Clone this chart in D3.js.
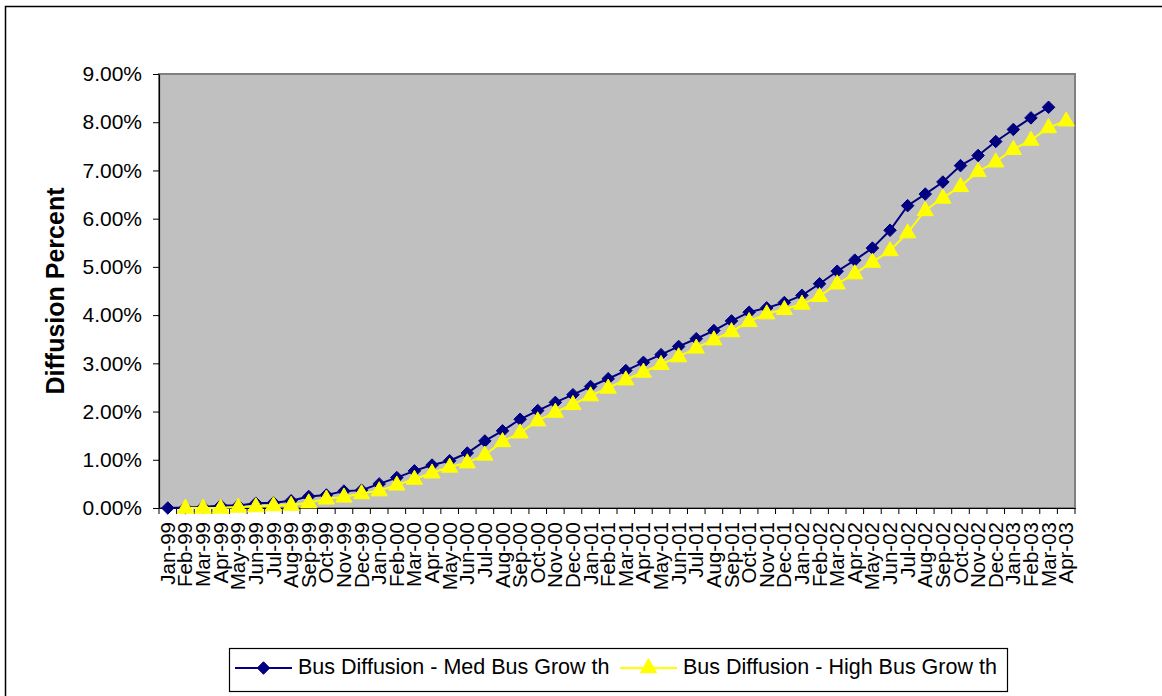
<!DOCTYPE html>
<html>
<head>
<meta charset="utf-8">
<script src="https://cdn.jsdelivr.net/npm/d3@7"></script>
<style>
  html, body { margin: 0; padding: 0; background: #fff; }
  svg { display: block; font-family: "Liberation Sans", Arial, Helvetica, sans-serif; }
</style>
</head>
<body>
<svg id="chart" width="1162" height="696"></svg>
<script>
const categories = ["Jan-99","Feb-99","Mar-99","Apr-99","May-99","Jun-99","Jul-99","Aug-99","Sep-99","Oct-99","Nov-99","Dec-99",
  "Jan-00","Feb-00","Mar-00","Apr-00","May-00","Jun-00","Jul-00","Aug-00","Sep-00","Oct-00","Nov-00","Dec-00",
  "Jan-01","Feb-01","Mar-01","Apr-01","May-01","Jun-01","Jul-01","Aug-01","Sep-01","Oct-01","Nov-01","Dec-01",
  "Jan-02","Feb-02","Mar-02","Apr-02","May-02","Jun-02","Jul-02","Aug-02","Sep-02","Oct-02","Nov-02","Dec-02",
  "Jan-03","Feb-03","Mar-03","Apr-03"];

// percent values
const medGrowth = [0.00,0.01,0.02,0.05,0.05,0.10,0.11,0.15,0.24,0.27,0.35,0.37,
  0.50,0.63,0.77,0.89,0.98,1.14,1.39,1.60,1.84,2.02,2.19,2.35,
  2.52,2.68,2.85,3.02,3.18,3.35,3.51,3.68,3.88,4.06,4.15,4.26,
  4.41,4.65,4.91,5.14,5.39,5.76,6.27,6.51,6.76,7.10,7.31,7.60,
  7.85,8.09,8.31,null];

const highGrowth = [null,0.00,0.00,0.00,0.02,0.03,0.05,0.06,0.11,0.19,0.23,0.30,
  0.36,0.48,0.60,0.73,0.85,0.94,1.10,1.38,1.56,1.81,1.99,2.15,
  2.33,2.49,2.66,2.82,2.98,3.14,3.32,3.49,3.66,3.87,4.03,4.12,
  4.23,4.39,4.65,4.86,5.10,5.34,5.71,6.17,6.43,6.67,6.98,7.18,
  7.44,7.63,7.89,8.03];

const yTicks = [0,1,2,3,4,5,6,7,8,9];
const seriesNames = ["Bus Diffusion - Med Bus Grow th", "Bus Diffusion - High Bus Grow th"];
const yTitle = "Diffusion Percent";

const svg = d3.select("#chart");
const font = "'Liberation Sans', Arial, Helvetica, sans-serif";

// outer chart frame
svg.append("rect").attr("x", 5.5).attr("y", 6.5).attr("width", 1170).attr("height", 700)
  .attr("fill", "#fff").attr("stroke", "#000").attr("stroke-width", 1.5);

const plot = {left: 159, right: 1075, top: 74, bottom: 508};

const x = d3.scaleBand().domain(categories).range([plot.left, plot.right]).padding(0);
const y = d3.scaleLinear().domain([0, 9]).range([plot.bottom, plot.top]);

// plot area
svg.append("rect").attr("x", plot.left).attr("y", plot.top)
  .attr("width", plot.right - plot.left).attr("height", plot.bottom - plot.top)
  .attr("fill", "#C0C0C0").attr("stroke", "#808080").attr("stroke-width", 2);

// y axis
const yAxis = svg.append("g").attr("transform", `translate(${plot.left},0)`)
  .call(d3.axisLeft(y).tickValues(yTicks).tickFormat(d => d.toFixed(2) + "%").tickSize(6).tickPadding(11).tickSizeOuter(0));
yAxis.select(".domain").attr("stroke", "#000").attr("stroke-width", 1.2);
yAxis.selectAll(".tick line").attr("stroke", "#000");
yAxis.selectAll("text").attr("font-size", 21).attr("font-family", font).attr("fill", "#000");

// x axis labels
const xAxis = svg.append("g").attr("transform", `translate(0,${plot.bottom})`)
  .call(d3.axisBottom(x).tickSize(0).tickSizeOuter(0));
xAxis.select(".domain").attr("stroke", "#000").attr("stroke-width", 1.2);
xAxis.selectAll("text")
  .attr("font-size", 20.5).attr("font-family", font).attr("fill", "#000")
  .attr("transform", "rotate(-90)")
  .attr("text-anchor", "end")
  .attr("x", -14).attr("y", 7).attr("dy", 0);

// x ticks between categories
const edges = categories.map(c => x(c)).concat([plot.right]);
svg.append("g").selectAll("line").data(edges).join("line")
  .attr("x1", d => d).attr("x2", d => d)
  .attr("y1", plot.bottom).attr("y2", plot.bottom + 6)
  .attr("stroke", "#000").attr("stroke-width", 1);

const cx = c => x(c) + x.bandwidth() / 2;

const medData = categories.map((c, i) => ({c, v: medGrowth[i]}));
const highData = categories.map((c, i) => ({c, v: highGrowth[i]}));

const line = d3.line().defined(d => d.v != null).x(d => cx(d.c)).y(d => y(d.v));

svg.append("path").datum(medData).attr("d", line)
  .attr("fill", "none").attr("stroke", "#000080").attr("stroke-width", 2);
const diamond = d3.symbol().type(d3.symbolDiamond2).size(100);
svg.append("g").selectAll("path").data(medData.filter(d => d.v != null)).join("path")
  .attr("d", diamond).attr("transform", d => `translate(${cx(d.c)},${y(d.v)})`)
  .attr("fill", "#000080").attr("stroke", "#000080").attr("stroke-width", 1);

svg.append("path").datum(highData).attr("d", line)
  .attr("fill", "none").attr("stroke", "#FFFF00").attr("stroke-width", 2);
const tri = d3.symbol().type(d3.symbolTriangle).size(115);
svg.append("g").selectAll("path").data(highData.filter(d => d.v != null)).join("path")
  .attr("d", tri).attr("transform", d => `translate(${cx(d.c)},${y(d.v) + 0.5})`)
  .attr("fill", "#FFFF00").attr("stroke", "#FFFF00").attr("stroke-width", 1);

// y title
svg.append("text").attr("transform", `translate(64,${(plot.top + plot.bottom) / 2}) rotate(-90)`)
  .attr("text-anchor", "middle").attr("font-size", 25).attr("font-weight", "bold")
  .attr("font-family", font).attr("fill", "#000").text(yTitle);

// legend
const lg = svg.append("g");
lg.append("rect").attr("x", 229.5).attr("y", 648.5).attr("width", 778).attr("height", 43)
  .attr("fill", "#fff").attr("stroke", "#000").attr("stroke-width", 1.2);
const legendItems = [
  {name: seriesNames[0], color: "#000080", sym: diamond, x0: 235},
  {name: seriesNames[1], color: "#FFFF00", sym: tri, x0: 620}
];
legendItems.forEach(it => {
  lg.append("line").attr("x1", it.x0).attr("x2", it.x0 + 57).attr("y1", 668).attr("y2", 668)
    .attr("stroke", it.color).attr("stroke-width", 2);
  lg.append("path").attr("d", it.sym).attr("transform", `translate(${it.x0 + 28.5},668)`)
    .attr("fill", it.color).attr("stroke", it.color);
  lg.append("text").attr("x", it.x0 + 63).attr("y", 673.5)
    .attr("font-size", 21.5).attr("font-family", font).attr("fill", "#000").text(it.name);
});
</script>
</body>
</html>
